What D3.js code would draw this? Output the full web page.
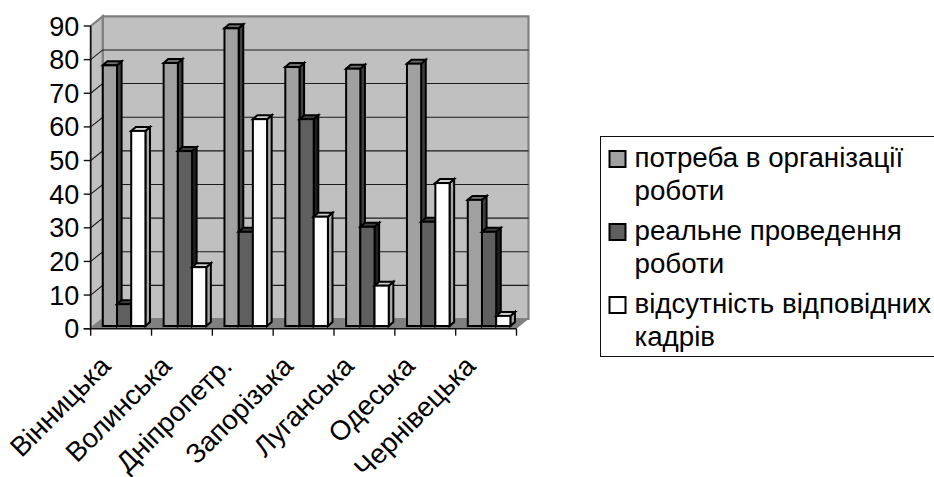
<!DOCTYPE html>
<html><head><meta charset="utf-8">
<script src="https://cdnjs.cloudflare.com/ajax/libs/d3/7.8.5/d3.min.js"></script>
<style>html,body{margin:0;padding:0;background:#fff;overflow:hidden}svg{display:block}text{font-family:"Liberation Sans",Arial,sans-serif;fill:#000}</style>
</head><body><svg id="c" width="934" height="477"></svg>
<script>
const categories=["Вінницька","Волинська","Дніпропетр.","Запорізька","Луганська","Одеська","Чернівецька"];
const need=[77.5,78.2,88.5,77,76.5,78,37.5];
const real=[6.5,52,28,61.5,29.5,31,28];
const noStaff=[58,17.5,61.5,32.5,12,42.5,3];
const seriesNames=[["потреба в організації","роботи"],["реальне проведення","роботи"],["відсутність відповідних","кадрів"]];
const yTicks=[0,10,20,30,40,50,60,70,80,90];
const seriesFill=["#a0a0a0","#5f5f5f","#ffffff"];
const seriesSide=["#404040","#202020","#a8a8a8"];
const seriesTop=["#707070","#404040","#d0d0d0"];

const svg=d3.select("#c");
const left=90.7,right=516.5,y0=328.7,y90=26;
const dx=12,dy=-9.7;
const x=d3.scaleBand().domain(categories).range([left,right]).paddingInner(0).paddingOuter(0);
const y=d3.scaleLinear().domain([0,90]).range([y0,y90]);
const barW=14.2,fx=3,fy=-2.7,bd=4.6,bdy=-4;

const poly=(pts,fill,stroke,sw)=>svg.append("polygon").attr("points",pts.map(p=>p.join(",")).join(" ")).attr("fill",fill).attr("stroke",stroke||"none").attr("stroke-width",sw||0);
poly([[left+dx,y(90)+dy],[right+dx,y(90)+dy],[right+dx,y(0)+dy],[left+dx,y(0)+dy]],"#c0c0c0","#808080",2.2);
poly([[left,y(90)],[left+dx,y(90)+dy],[left+dx,y(0)+dy],[left,y(0)]],"#c0c0c0","#808080",2.2);
poly([[left,y(0)],[left+dx,y(0)+dy],[right+dx,y(0)+dy],[right,y(0)]],"#808080");

yTicks.slice(1,-1).forEach(t=>{
  svg.append("path").attr("fill","none").attr("stroke","#1a1a1a").attr("stroke-width",1.1)
   .attr("d",`M${left},${y(t)}L${left+dx},${y(t)+dy}L${right+dx},${y(t)+dy}`);
});

const series=[need,real,noStaff];
categories.forEach((c,i)=>{
  series.forEach((s,j)=>{
    const x0=x(c)+x.bandwidth()/2-1.5*barW+fx+j*barW, x1=x0+barW;
    const base=y(0)+fy, top=y(s[i])+fy;
    const g=svg.append("g").attr("stroke","#000").attr("stroke-width",2).attr("stroke-linejoin","miter");
    g.append("polygon").attr("points",`${x1},${top} ${x1+bd},${top+bdy} ${x1+bd},${base+bdy} ${x1},${base}`).attr("fill",seriesSide[j]);
    g.append("polygon").attr("points",`${x0},${top} ${x0+bd},${top+bdy} ${x1+bd},${top+bdy} ${x1},${top}`).attr("fill",seriesTop[j]);
    g.append("rect").attr("x",x0).attr("y",top).attr("width",barW).attr("height",base-top).attr("fill",seriesFill[j]);
  });
});

svg.append("line").attr("x1",left).attr("x2",left).attr("y1",y(90)).attr("y2",y(0)+7).attr("stroke","#111").attr("stroke-width",1.4);
svg.append("line").attr("x1",left-7).attr("x2",right).attr("y1",y(0)).attr("y2",y(0)).attr("stroke","#111").attr("stroke-width",1.4);
yTicks.forEach(t=>{
  svg.append("line").attr("x1",left-7).attr("x2",left).attr("y1",y(t)).attr("y2",y(t)).attr("stroke","#111").attr("stroke-width",1.4);
  svg.append("text").attr("x",left-11.5).attr("y",y(t)+9.5).attr("text-anchor","end").attr("font-size",27).text(t);
});
categories.forEach((c,i)=>{
  const tx=x(c)+x.bandwidth();
  svg.append("line").attr("x1",tx).attr("x2",tx).attr("y1",y(0)).attr("y2",y(0)+7).attr("stroke","#111").attr("stroke-width",1.4);
  const lx=x(c)+x.bandwidth()/2-9;
  svg.append("text").attr("text-anchor","end").attr("font-size",27.5)
   .attr("transform",`translate(${lx},${y(0)+39}) rotate(-45)`).text(c);
});

svg.append("rect").attr("x",600.5).attr("y",136.5).attr("width",340).attr("height",220).attr("fill","#fff").attr("stroke","#111").attr("stroke-width",1);
const legY=[167,240,313];
seriesNames.forEach((n,j)=>{
  svg.append("rect").attr("x",609.5).attr("y",legY[j]-16).attr("width",16).attr("height",16).attr("fill",seriesFill[j]).attr("stroke","#000").attr("stroke-width",2);
  n.forEach((t,k)=>svg.append("text").attr("x",634.5).attr("y",legY[j]+k*33).attr("font-size",27.7).text(t));
});
</script></body></html>
